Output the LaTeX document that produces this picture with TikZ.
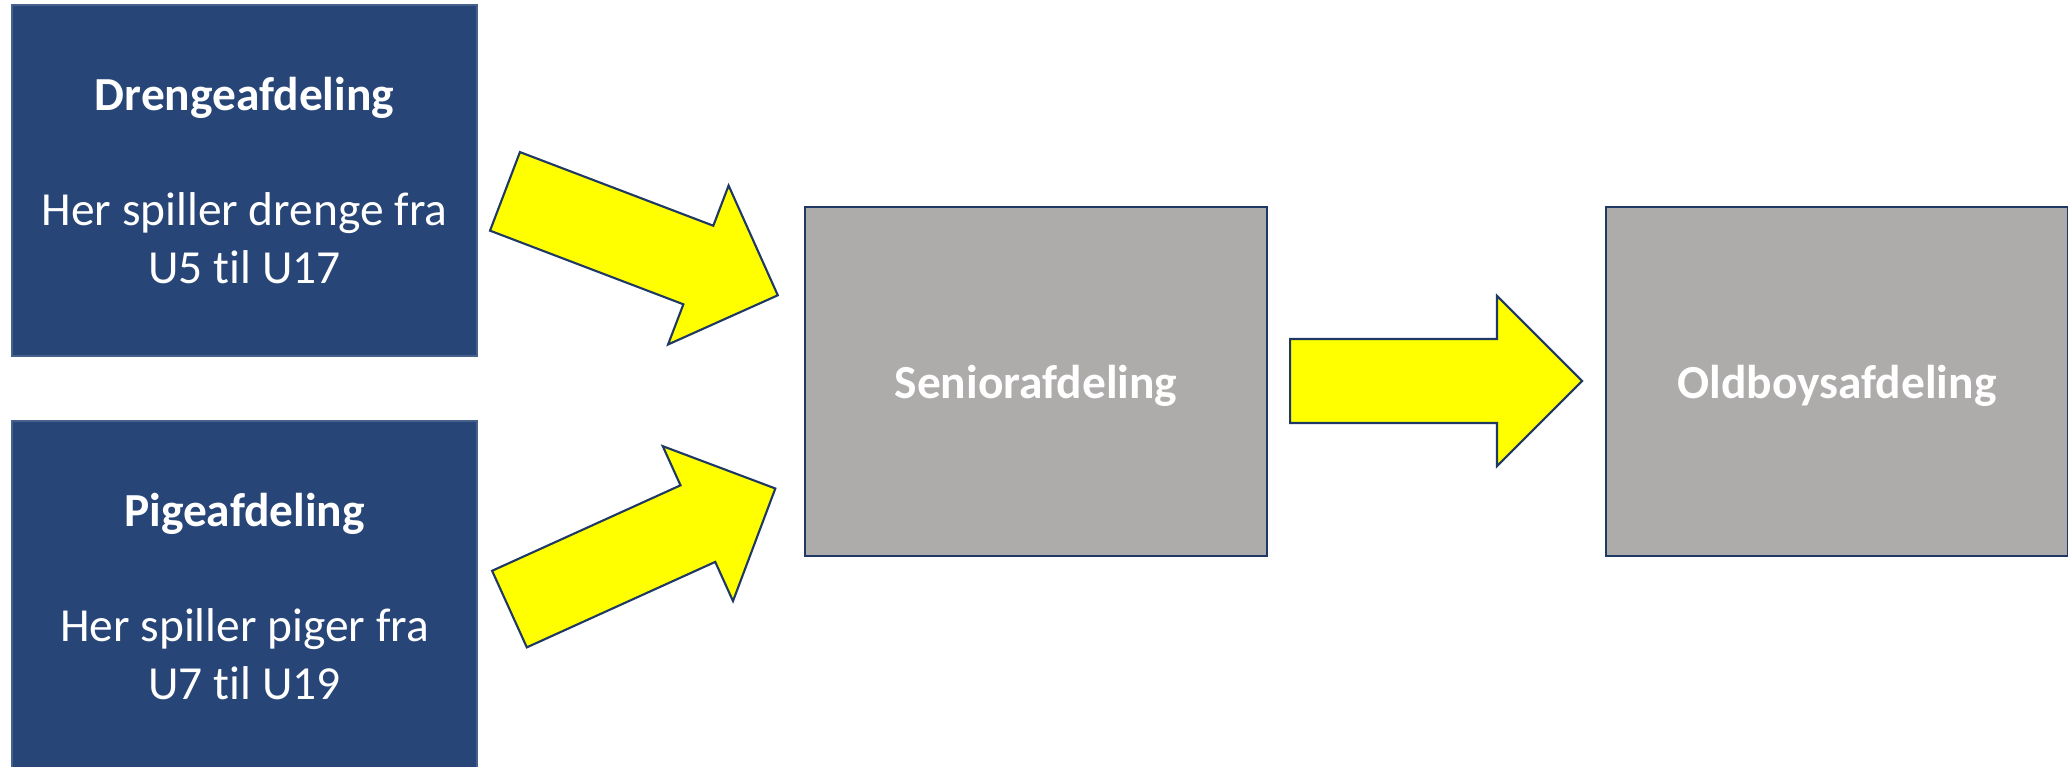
\documentclass[tikz,border=0pt]{standalone}
\usepackage{fontspec}
\setmainfont{Carlito}[Ligatures=NoCommon]
\usetikzlibrary{shapes.arrows}

\definecolor{deptblue}{RGB}{40,69,120}
\definecolor{deptgray}{RGB}{174,171,171}
\definecolor{edgenavy}{RGB}{31,56,100}
\definecolor{arrowyellow}{RGB}{255,255,0}

\tikzset{
    youthbox/.style={rectangle, fill=deptblue, draw=deptblue!85!white, line width=0.8pt,
        minimum width=9.3cm, minimum height=7.02cm, text=white, align=center,
        font=\fontsize{27}{33}\selectfont},
    adultbox/.style={rectangle, fill=deptgray, draw=edgenavy, line width=1.1pt,
        minimum width=9.24cm, minimum height=6.98cm, text=white, text depth=0pt,
        align=center, font=\fontsize{27}{33}\selectfont\bfseries},
    bigarrow/.style={single arrow, fill=arrowyellow, draw=edgenavy, line width=1.2pt,
        inner xsep=0pt, inner ysep=0.82cm, minimum height=5.84cm,
        single arrow head extend=0.86cm, anchor=tail}
}

\begin{document}
\begin{tikzpicture}[x=0.02cm, y=-0.02cm]
    \useasboundingbox (0,0) rectangle (2068,767);

    % Youth departments
    \node[youthbox] (dreng) at (244.5,180.5) {\textbf{Drengeafdeling}\\[33pt] Her spiller drenge fra\\ U5 til U17};
    \node[youthbox] (pige) at (244.5,596.5) {\textbf{Pigeafdeling}\\[33pt] Her spiller piger fra\\ U7 til U19};

    % Senior and oldboys
    \node[adultbox] (senior) at (1036,381.5) {Seniorafdeling};
    \node[adultbox] (oldboys) at (1837,381.5) {Oldboysafdeling};

    % Block arrows
    \node[bigarrow, rotate=-20.85] (drengarrow) at (504,191) {};
    \node[bigarrow, rotate=24.4] (pigearrow) at (508.5,609.5) {};
    \node[bigarrow] (seniorarrow) at (1289,381) {};
\end{tikzpicture}
\end{document}
